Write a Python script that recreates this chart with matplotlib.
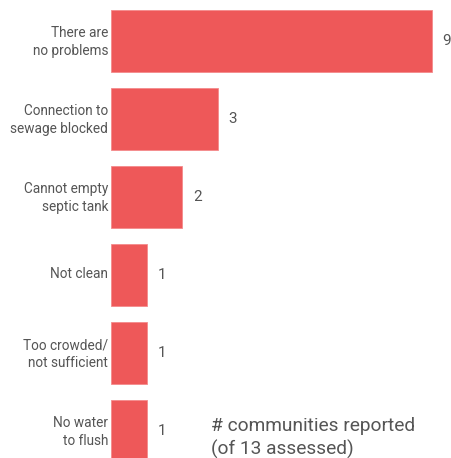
import matplotlib.pyplot as plt
from matplotlib.transforms import ScaledTranslation

plt.rcParams['font.family'] = ['Roboto', 'DejaVu Sans']

categories = ["There are\nno problems", "Connection to\nsewage blocked", "Cannot empty\nseptic tank",
              "Not clean", "Too crowded/\nnot sufficient", "No water\nto flush"]
values = [9, 3, 2, 1, 1, 1]

bar_color = "#EE5859"
text_color = "#555555"

fig = plt.figure(figsize=(4.52, 4.58), dpi=100)
ax = fig.add_axes([111 / 452, 0, 341 / 452, 1])

pos = list(range(len(values)))
ax.barh(pos, values, height=0.795, color=bar_color, edgecolor="#F48A8B", linewidth=0.6)

ax.set_xlim(0, 341 / 35.67)
ax.set_ylim((458 - 41) / 78, -41 / 78)

for p, v in zip(pos, values):
    ax.text(v + 0.3, p, str(v), va="center", ha="left", fontsize=11, color=text_color)

ax.set_yticks(pos)
ax.set_yticklabels(categories, fontsize=9.8, color=text_color, linespacing=1.4)
ax.tick_params(axis="y", length=0, pad=2)
# nudge labels up a little
shift = ScaledTranslation(0, 2.5 / 100, fig.dpi_scale_trans)
for lab in ax.get_yticklabels():
    lab.set_transform(lab.get_transform() + shift)
ax.set_xticks([])
for s in ax.spines.values():
    s.set_visible(False)

fig.text(211 / 452, 1 - 417 / 458, "# communities reported\n(of 13 assessed)", fontsize=13.8,
         color=text_color, ha="left", va="top", linespacing=1.3)

fig.savefig("out.png", dpi=100)
